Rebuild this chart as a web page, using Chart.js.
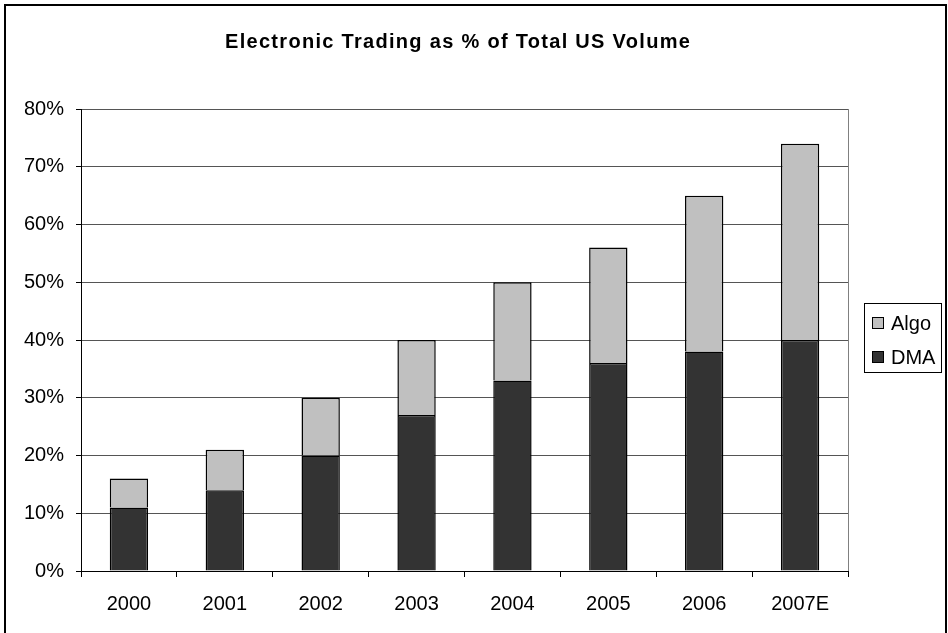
<!DOCTYPE html>
<html>
<head>
<meta charset="utf-8">
<script src="https://cdn.jsdelivr.net/npm/chart.js@4/dist/chart.umd.min.js"></script>
<style>
  body { margin: 0; background: #fff; }
  #wrap { width: 948px; height: 633px; }
</style>
</head>
<body>
<div id="wrap"><canvas id="tradingChart" width="948" height="633"></canvas></div>
<script>
// data
const years = ['2000', '2001', '2002', '2003', '2004', '2005', '2006', '2007E'];
const dmaShare = [11, 14, 20, 27, 33, 36, 38, 40];
const algoShare = [5, 7, 10, 13, 17, 20, 27, 34];
const yTicks = [0, 10, 20, 30, 40, 50, 60, 70, 80];
const chartTitle = 'Electronic Trading as % of Total US Volume';

const FONT = 'Arial, "Liberation Sans", sans-serif';

// frame, title and boxed legend like the Excel original
const decor = {
    id: 'decor',
    afterDraw(chart) {
        const ctx = chart.ctx;
        ctx.save();
        // outer frame (bottom edge is cut off in the original)
        ctx.strokeStyle = '#000';
        ctx.lineWidth = 2;
        ctx.beginPath();
        ctx.moveTo(5, 640);
        ctx.lineTo(5, 5);
        ctx.lineTo(946, 5);
        ctx.lineTo(946, 640);
        ctx.stroke();

        // right edge of plot area
        const a = chart.chartArea;
        ctx.lineWidth = 1;
        ctx.strokeStyle = '#808080';
        ctx.beginPath();
        ctx.moveTo(Math.round(a.right) + 0.5, a.top);
        ctx.lineTo(Math.round(a.right) + 0.5, a.bottom);
        ctx.stroke();

        // title
        ctx.fillStyle = '#000';
        ctx.font = 'bold 20px ' + FONT;
        ctx.textAlign = 'left';
        ctx.textBaseline = 'alphabetic';
        ctx.letterSpacing = '1.3px';
        ctx.fillText(chartTitle, 225, 48);
        ctx.letterSpacing = '0px';

        // legend (top item = last dataset)
        ctx.strokeStyle = '#000';
        ctx.strokeRect(864.5, 303.5, 77, 69);
        ctx.font = '20px ' + FONT;
        ctx.textBaseline = 'middle';
        const sets = chart.data.datasets.slice().reverse();
        sets.forEach(function(ds, i) {
            const cy = 323 + i * 34;
            ctx.fillStyle = ds.backgroundColor;
            ctx.fillRect(872.5, cy - 5.5, 11, 11);
            ctx.strokeRect(872.5, cy - 5.5, 11, 11);
            ctx.fillStyle = '#000';
            ctx.fillText(ds.label, 891, cy + 1);
        });
        ctx.restore();
    }
};

const ctx = document.getElementById('tradingChart').getContext('2d');
const tradingChart = new Chart(ctx, {
    type: 'bar',
    data: {
        labels: years,
        datasets: [{
            label: 'DMA',
            data: dmaShare,
            backgroundColor: '#333333',
            borderColor: '#000',
            borderWidth: 1.5,
            barPercentage: 0.4,
            categoryPercentage: 1
        }, {
            label: 'Algo',
            data: algoShare,
            backgroundColor: '#c0c0c0',
            borderColor: '#000',
            borderWidth: 1.5,
            barPercentage: 0.4,
            categoryPercentage: 1
        }]
    },
    options: {
        responsive: false,
        animation: false,
        layout: {
            padding: { left: 0, top: 109, right: 100, bottom: 0 }
        },
        scales: {
            x: {
                stacked: true,
                grid: {
                    display: true,
                    offset: true,
                    drawOnChartArea: false,
                    tickLength: 6,
                    color: '#000'
                },
                border: { color: '#000', width: 1 },
                ticks: {
                    color: '#000',
                    padding: 15,
                    font: { family: FONT, size: 20 }
                },
                afterFit: function(scale) { scale.height = 62; }
            },
            y: {
                stacked: true,
                min: 0,
                max: 80,
                afterBuildTicks: function(scale) {
                    scale.ticks = yTicks.map(function(v) { return { value: v }; });
                },
                grid: {
                    color: '#555',
                    tickColor: '#000',
                    tickLength: 5
                },
                border: { color: '#000', width: 1 },
                ticks: {
                    color: '#000',
                    padding: 12,
                    font: { family: FONT, size: 20 },
                    callback: function(v) { return v + '%'; }
                },
                afterFit: function(scale) { scale.width = 81; }
            }
        },
        plugins: {
            legend: { display: false },
            title: { display: false },
            tooltip: { enabled: false }
        }
    },
    plugins: [decor]
});
</script>
</body>
</html>
